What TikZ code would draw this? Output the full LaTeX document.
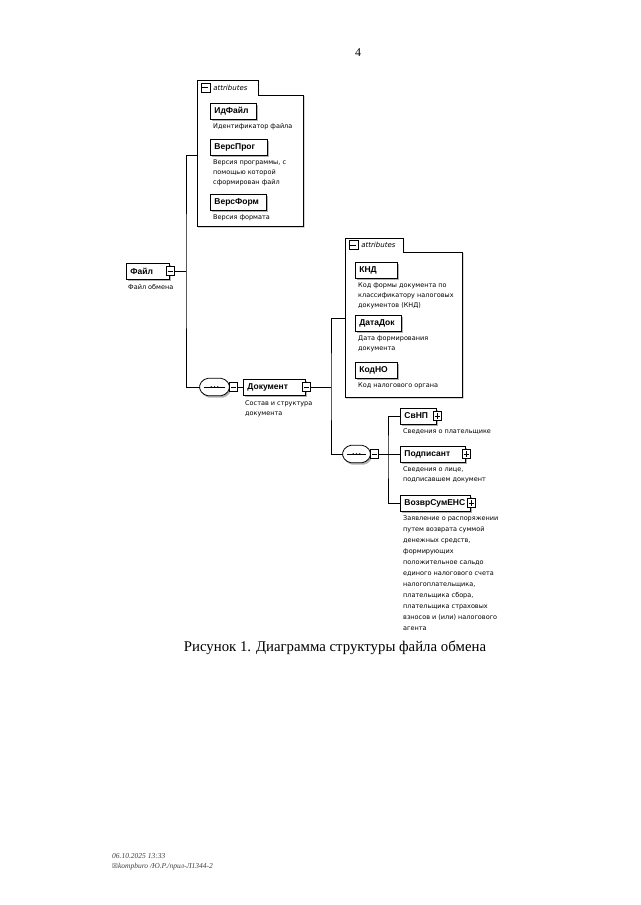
\documentclass[tikz,border=0pt]{standalone}
\usepackage{fontspec}
\setmainfont{Liberation Serif}
\newfontfamily\xsdfont{DejaVu Sans}
\newfontfamily\labelfont{Liberation Sans}
\newfontfamily\symfont{DejaVu Sans}
\usetikzlibrary{shadows}
\usetikzlibrary{positioning}

\newcommand{\seqgroup}[3]{%
  \node[seqnode, minimum width=#3] (#1) at (#2) {};
  \path[seqline] ([xshift=6pt]#1.north west) -- ([xshift=-6pt]#1.north east) -- ([yshift=-5pt]#1.north east)
    -- ([yshift=5pt]#1.south east) -- ([xshift=-6pt]#1.south east) -- ([xshift=6pt]#1.south west)
    -- ([yshift=5pt]#1.south west) -- ([yshift=-5pt]#1.north west) -- cycle;
  \draw[line width=0.7pt] ([xshift=4pt]#1.west) -- ([xshift=-4pt]#1.east);
  \foreach \d in {-3.3,0,3.3} \fill ([xshift=\d pt]#1.center) circle (0.9pt);
}

\begin{document}
\begin{tikzpicture}[
  x=1pt, y=-1pt,
  every node/.style={font=\xsdfont\fontsize{6.5}{10}\selectfont},
  elem/.style={draw, line width=0.8pt, fill=white, minimum height=16pt, inner xsep=4pt, inner ysep=0pt,
    text width=#1, align=left, anchor=west, font=\labelfont\bfseries\fontsize{8.5}{9}\selectfont,
    general shadow={fill=gray!60, shadow xshift=1.5pt, shadow yshift=-2.2pt}},
  desc/.style={anchor=north west, align=left, inner sep=0pt},
  minus/.style={draw, line width=0.6pt, fill=white, minimum width=8pt, minimum height=9pt, inner sep=0pt, anchor=west,
    path picture={\draw ([xshift=1.6pt]path picture bounding box.west) -- ([xshift=-1.6pt]path picture bounding box.east);}},
  plus/.style={minus,
    path picture={\draw ([xshift=1.6pt]path picture bounding box.west) -- ([xshift=-1.6pt]path picture bounding box.east);
                  \draw ([yshift=1.8pt]path picture bounding box.south) -- ([yshift=-1.8pt]path picture bounding box.north);}},
  seqnode/.style={minimum height=17pt, inner sep=0pt},
  seqline/.style={draw, line width=0.8pt, fill=white, rounded corners=2pt,
    general shadow={fill=gray!60, shadow xshift=1.5pt, shadow yshift=-2pt}},
  grp/.style={anchor=north west, inner sep=0pt},
  grpline/.style={draw, line width=0.6pt, fill=white,
    general shadow={fill=gray!50, shadow xshift=1.2pt, shadow yshift=-1.2pt}},
  tab/.style={anchor=west, inner sep=0pt, font=\xsdfont\itshape\fontsize{7}{8}\selectfont},
  conn/.style={draw, line width=0.7pt}
]
\fill[white] (0,0) rectangle (640,905);
\useasboundingbox (0,0) rectangle (640,905);

\node[font=\rmfamily\fontsize{12}{14}\selectfont] (pagenum) at (358,53) {4};

\node[grp, minimum width=106pt, minimum height=131pt] (attr1) at (197,95) {};
\path[grpline] (attr1.north east) -- ([xshift=61pt]attr1.north west) -- ([xshift=61pt,yshift=15pt]attr1.north west)
  -- ([yshift=15pt]attr1.north west) -- (attr1.south west) -- (attr1.south east) -- cycle;
\node[minus, minimum width=9pt] (attr1m) at ([xshift=3.5pt,yshift=7.5pt]attr1.north west) {};
\node[tab] (attr1tab) at ([xshift=3pt]attr1m.east) {attributes};

\node[elem=38pt] (idfayl) at (210,111) {ИдФайл};
\node[desc] (idfayld) at ([xshift=3pt,yshift=-4pt]idfayl.south west) {Идентификатор файла};
\node[elem=49pt] (versprog) at (210,147) {ВерсПрог};
\node[desc] (versprogd) at ([xshift=3pt,yshift=-4pt]versprog.south west) {Версия программы, с\\помощью которой\\сформирован файл};
\node[elem=48pt] (versform) at (210,202) {ВерсФорм};
\node[desc] (versformd) at ([xshift=3pt,yshift=-4pt]versform.south west) {Версия формата};

\node[elem=35pt] (fayl) at (126,271) {Файл};
\node[minus] (faylpm) at ([xshift=-4pt]fayl.east) {};
\node[desc] (fayld) at ([xshift=2pt,yshift=-5pt]fayl.south west) {Файл обмена};

\seqgroup{seqfayl}{214.5,387}{29pt}
\node[minus] (seqfaylpm) at (seqfayl.east) {};

\node[elem=54pt] (dokument) at (243,387) {Документ};
\node[minus] (dokpm) at ([xshift=-4pt]dokument.east) {};
\node[desc] (dokumentd) at ([xshift=2pt,yshift=-5pt]dokument.south west) {Состав и структура\\документа};

\node[grp, minimum width=117pt, minimum height=145pt] (attr2) at (345,252) {};
\path[grpline] (attr2.north east) -- ([xshift=58pt]attr2.north west) -- ([xshift=58pt,yshift=14pt]attr2.north west)
  -- ([yshift=14pt]attr2.north west) -- (attr2.south west) -- (attr2.south east) -- cycle;
\node[minus, minimum width=9pt] (attr2m) at ([xshift=3.5pt,yshift=7pt]attr2.north west) {};
\node[tab] (attr2tab) at ([xshift=3pt]attr2m.east) {attributes};

\node[elem=34pt] (knd) at (355,270) {КНД};
\node[desc] (kndd) at ([xshift=3pt,yshift=-4pt]knd.south west) {Код формы документа по\\классификатору налоговых\\документов (КНД)};
\node[elem=38pt] (datadok) at (355,323) {ДатаДок};
\node[desc] (datadokd) at ([xshift=3pt,yshift=-4pt]datadok.south west) {Дата формирования\\документа};
\node[elem=34pt] (kodno) at (355,370) {КодНО};
\node[desc] (kodnod) at ([xshift=3pt,yshift=-4pt]kodno.south west) {Код налогового органа};

\seqgroup{seqdok}{356.5,454}{27pt}
\node[minus] (seqdokpm) at (seqdok.east) {};

\node[elem=28pt] (svnp) at (400,416) {СвНП};
\node[plus] (svnppm) at ([xshift=-4pt]svnp.east) {};
\node[desc] (svnpd) at ([xshift=3pt,yshift=-4pt]svnp.south west) {Сведения о плательщике};
\node[elem=57pt] (podp) at (400,454) {Подписант};
\node[plus] (podppm) at ([xshift=-4pt]podp.east) {};
\node[desc] (podpd) at ([xshift=3pt,yshift=-4pt]podp.south west) {Сведения о лице,\\подписавшем документ};
\node[elem=62pt] (vozvr) at (400,503) {ВозврСумЕНС};
\node[plus] (vozvrpm) at ([xshift=-4pt]vozvr.east) {};
\node[desc, font=\xsdfont\fontsize{6.5}{11}\selectfont] (vozvrd) at ([xshift=3pt,yshift=-4pt]vozvr.south west)
  {Заявление о распоряжении\\путем возврата суммой\\денежных средств,\\формирующих\\положительное сальдо\\единого налогового счета\\налогоплательщика,\\плательщика сбора,\\плательщика страховых\\взносов и (или) налогового\\агента};

\coordinate (fayljoin) at (186,271);
\draw[conn] (faylpm.east) -- (fayljoin);
\draw[conn] ([yshift=5pt]attr1.west) -| (fayljoin) |- (seqfayl.west);
\draw[conn] (seqfaylpm.east) -- (dokument.west);

\coordinate (dokjoin) at (331,387);
\draw[conn] (dokpm.east) -- (dokjoin);
\draw[conn] ([yshift=6pt]attr2.west) -| (dokjoin) |- (seqdok.west);

\coordinate (seqjoin) at (388,454);
\draw[conn] (seqdokpm.east) -- (seqjoin);
\draw[conn] (svnp.west) -| (seqjoin) |- (vozvr.west);
\draw[conn] (seqjoin) -- (podp.west);

\node[font=\rmfamily\fontsize{14.8}{16}\selectfont] (caption) at (335,648) {Рисунок 1. Диаграмма структуры файла обмена};

\node[anchor=north west, align=left, inner sep=0pt, text=black!75,
  font=\rmfamily\itshape\fontsize{7.5}{10}\selectfont] (footer) at (112,853)
  {06.10.2025 13:33\\{\symfont\fontsize{6.5}{10}\selectfont ☒}kompburo /Ю.Р./прил-Л1344-2};
\end{tikzpicture}
\end{document}
